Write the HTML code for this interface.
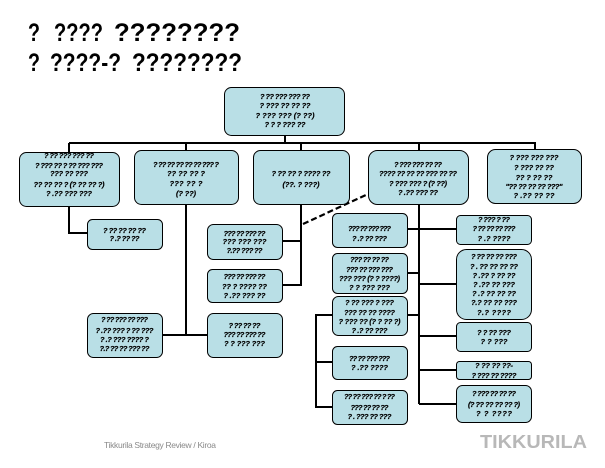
<!DOCTYPE html>
<html><head><meta charset="utf-8"><style>
html,body{margin:0;padding:0;background:#fff}
svg{display:block}
.b{fill:#b9dfe6;stroke:#000;stroke-width:1}
.l{stroke:#000;stroke-width:2;fill:none}
.t{font:italic bold 7.5px "Liberation Sans",sans-serif;fill:#000;stroke:#000;stroke-width:.2;text-anchor:middle}
.h{font:bold 25px "Liberation Sans",sans-serif;fill:#000}
</style></head><body>
<svg width="605" height="468" viewBox="0 0 605 468" xmlns="http://www.w3.org/2000/svg">
<text class="h" x="28" y="41" textLength="12" lengthAdjust="spacingAndGlyphs">?</text>
<text class="h" x="54" y="41" textLength="49" lengthAdjust="spacingAndGlyphs">????</text>
<text class="h" x="114" y="41" textLength="126" lengthAdjust="spacingAndGlyphs">????????</text>
<text class="h" x="28" y="71" textLength="12" lengthAdjust="spacingAndGlyphs">?</text>
<text class="h" x="50" y="71" textLength="71" lengthAdjust="spacingAndGlyphs">????-?</text>
<text class="h" x="132" y="71" textLength="110" lengthAdjust="spacingAndGlyphs">????????</text>
<g class="l" shape-rendering="crispEdges">
<path d="M285 136V143M69 143H535V150M69 143V233H87M186 143V335M162 335H207M301 143V285H282M282 241H301M419 143V404"/>
<path d="M407 229H456M407 273H419M407 315H419M419 284H456M419 336H456M419 370H456M419 404H456"/>
<path d="M332 315H316V407H332M316 362H332"/>
</g>
<path d="M303 224L368 194" stroke="#000" stroke-width="2.2" stroke-dasharray="6 3" fill="none"/>
<rect class="b" x="224.500" y="87.500" width="120" height="48" rx="7"/>
<rect class="b" x="19.500" y="152.500" width="100" height="54" rx="7"/>
<rect class="b" x="134.500" y="150.500" width="104" height="54" rx="7"/>
<rect class="b" x="253.500" y="150.500" width="96" height="54" rx="7"/>
<rect class="b" x="368.500" y="150.500" width="100" height="54" rx="9"/>
<rect class="b" x="487.500" y="149.500" width="94" height="54" rx="8"/>
<rect class="b" x="87.500" y="219.500" width="75" height="30" rx="5"/>
<rect class="b" x="87.500" y="313.500" width="75" height="44" rx="6"/>
<rect class="b" x="207.500" y="313.500" width="75" height="44" rx="6"/>
<rect class="b" x="207.500" y="224.500" width="75" height="35" rx="6"/>
<rect class="b" x="207.500" y="269.500" width="75" height="33" rx="5"/>
<rect class="b" x="332.500" y="213.500" width="75" height="34" rx="5"/>
<rect class="b" x="332.500" y="253.500" width="75" height="40" rx="5"/>
<rect class="b" x="332.500" y="296.500" width="75" height="39" rx="6"/>
<rect class="b" x="332.500" y="346.500" width="75" height="33" rx="5"/>
<rect class="b" x="332.500" y="390.500" width="75" height="34" rx="5"/>
<rect class="b" x="456.500" y="215.500" width="75" height="29" rx="4"/>
<rect class="b" x="456.500" y="249.500" width="75" height="70" rx="10"/>
<rect class="b" x="456.500" y="322.500" width="75" height="29" rx="4"/>
<rect class="b" x="456.500" y="361.500" width="75" height="18" rx="3"/>
<rect class="b" x="456.500" y="385.500" width="75" height="37" rx="6"/>
<g class="t">
<text x="285" y="99" textLength="50">? ?? ??? ??? ??</text>
<text x="285" y="108" textLength="51">? ??? ?? ?? ??</text>
<text x="285" y="118" textLength="59">? ??? ???  (? ??)</text>
<text x="285" y="127" textLength="41">? ? ? ??? ??</text>
<text x="69" y="158" textLength="50">? ?? ??? ??? ??</text>
<text x="69" y="168" textLength="68">? ??? ?? ? ?? ??? ???</text>
<text x="69" y="176" textLength="38">??? ?? ???</text>
<text x="69" y="187" textLength="71">?? ?? ?? ? (? ?? ?? ?)</text>
<text x="69" y="196" textLength="46">? .?? ??? ???</text>
<text x="186" y="167" textLength="66">? ?? ?? ?? ?? ?? ??? ?</text>
<text x="186" y="176" textLength="38">?? ?? ?? ?</text>
<text x="186" y="186" textLength="33">??? ?? ?</text>
<text x="186" y="196" textLength="20">(? ??)</text>
<text x="301" y="176" textLength="59">? ?? ?? ? ???? ??</text>
<text x="301" y="187" textLength="37">(??. ? ???)</text>
<text x="418" y="167" textLength="48">? ??? ??? ?? ??</text>
<text x="418" y="176" textLength="78">???? ??  ?? ?? ??? ?? ??</text>
<text x="418" y="186" textLength="58">? ??? ??? ? (? ??)</text>
<text x="418" y="195" textLength="40">? .?? ??? ??</text>
<text x="534" y="160" textLength="49">? ??? ??? ???</text>
<text x="534" y="170" textLength="40">? ??? ?? ??</text>
<text x="534" y="180" textLength="37">?? ? ?? ??</text>
<text x="534" y="189" textLength="57">"?? ?? ?? ?? ???"</text>
<text x="534" y="198" textLength="41">? .?? ?? ??</text>
<text x="124.500" y="233" textLength="43">? ?? ?? ?? ??</text>
<text x="124.500" y="241" textLength="30">? .? ?? ??</text>
<text x="124.500" y="322" textLength="47">? ?? ??? ?? ???</text>
<text x="124.500" y="333" textLength="58">? .?? ??? ? ?? ???</text>
<text x="124.500" y="342" textLength="49">? .? ??? ???? ?</text>
<text x="124.500" y="351" textLength="50">?.? ?? ?? ??? ??</text>
<text x="244.500" y="328" textLength="32">? ?? ?? ??</text>
<text x="244.500" y="337" textLength="42">??? ?? ??? ??</text>
<text x="244.500" y="346" textLength="41">? ? ??? ???</text>
<text x="244.500" y="236" textLength="42">??? ?? ??? ??</text>
<text x="244.500" y="244" textLength="44">??? ??? ???</text>
<text x="244.500" y="253" textLength="36">?.?? ??? ??</text>
<text x="244.500" y="279" textLength="42">??? ?? ??? ??</text>
<text x="244.500" y="289" textLength="45">?? ? ???? ??</text>
<text x="244.500" y="298" textLength="42">? .?? ??? ??</text>
<text x="369.500" y="231" textLength="43">??? ?? ??? ???</text>
<text x="369.500" y="241" textLength="35">? .? ?? ???</text>
<text x="369.500" y="262" textLength="39">??? ?? ?? ??</text>
<text x="369.500" y="272" textLength="47">??? ?? ??? ???</text>
<text x="369.500" y="281" textLength="61">??? ???  (? ? ????)</text>
<text x="369.500" y="290" textLength="41">? ? ??? ???</text>
<text x="369.500" y="305" textLength="49">? ?? ??? ? ???</text>
<text x="369.500" y="315" textLength="51">??? ?? ?? ????</text>
<text x="369.500" y="324" textLength="62">? ??? ?? (? ? ?? ?)</text>
<text x="369.500" y="333" textLength="36">? .? ?? ???</text>
<text x="369.500" y="361" textLength="41">?? ?? ??? ???</text>
<text x="369.500" y="370" textLength="37">? .?? ????</text>
<text x="369.500" y="399" textLength="51">?? ?? ??? ?? ? ??</text>
<text x="369.500" y="410" textLength="38">??? ?? ?? ??</text>
<text x="369.500" y="419" textLength="44">? . ??? ?? ???</text>
<text x="494" y="222" textLength="32">? ??? ? ??</text>
<text x="494" y="231" textLength="43">? ?? ?? ?? ???</text>
<text x="494" y="241" textLength="33">? .? ????</text>
<text x="494" y="259" textLength="46">? ?? ?? ?? ???</text>
<text x="494" y="269" textLength="48">? . ?? ?? ?? ??</text>
<text x="494" y="278" textLength="43">? .?? ? ?? ??</text>
<text x="494" y="287" textLength="42">? .?? ?? ???</text>
<text x="494" y="296" textLength="44">? .? ?? ?? ??</text>
<text x="494" y="305" textLength="46">?.? ?? ?? ???</text>
<text x="494" y="315" textLength="34">?.? ????</text>
<text x="494" y="335" textLength="34">? ? ?? ???</text>
<text x="494" y="344" textLength="27">? ? ???</text>
<text x="494" y="368" textLength="38">? ?? ?? ??-</text>
<text x="494" y="378" textLength="45">? ??? ?? ????</text>
<text x="494" y="396" textLength="44">? ??? ?? ?? ??</text>
<text x="494" y="407" textLength="52">(? ?? ?? ?? ?? ?)</text>
<text x="494" y="416" textLength="36">?  ? ????</text>
</g>
<text x="104" y="448" textLength="112" style="font:8.500px 'Liberation Sans',sans-serif;fill:#8a8a8a">Tikkurila Strategy Review / Kiroa</text>
<text x="480" y="448" textLength="107" lengthAdjust="spacingAndGlyphs" style="font:bold 18px 'Liberation Sans',sans-serif;fill:#b8b8b8">TIKKURILA</text>
</svg>
</body></html>
